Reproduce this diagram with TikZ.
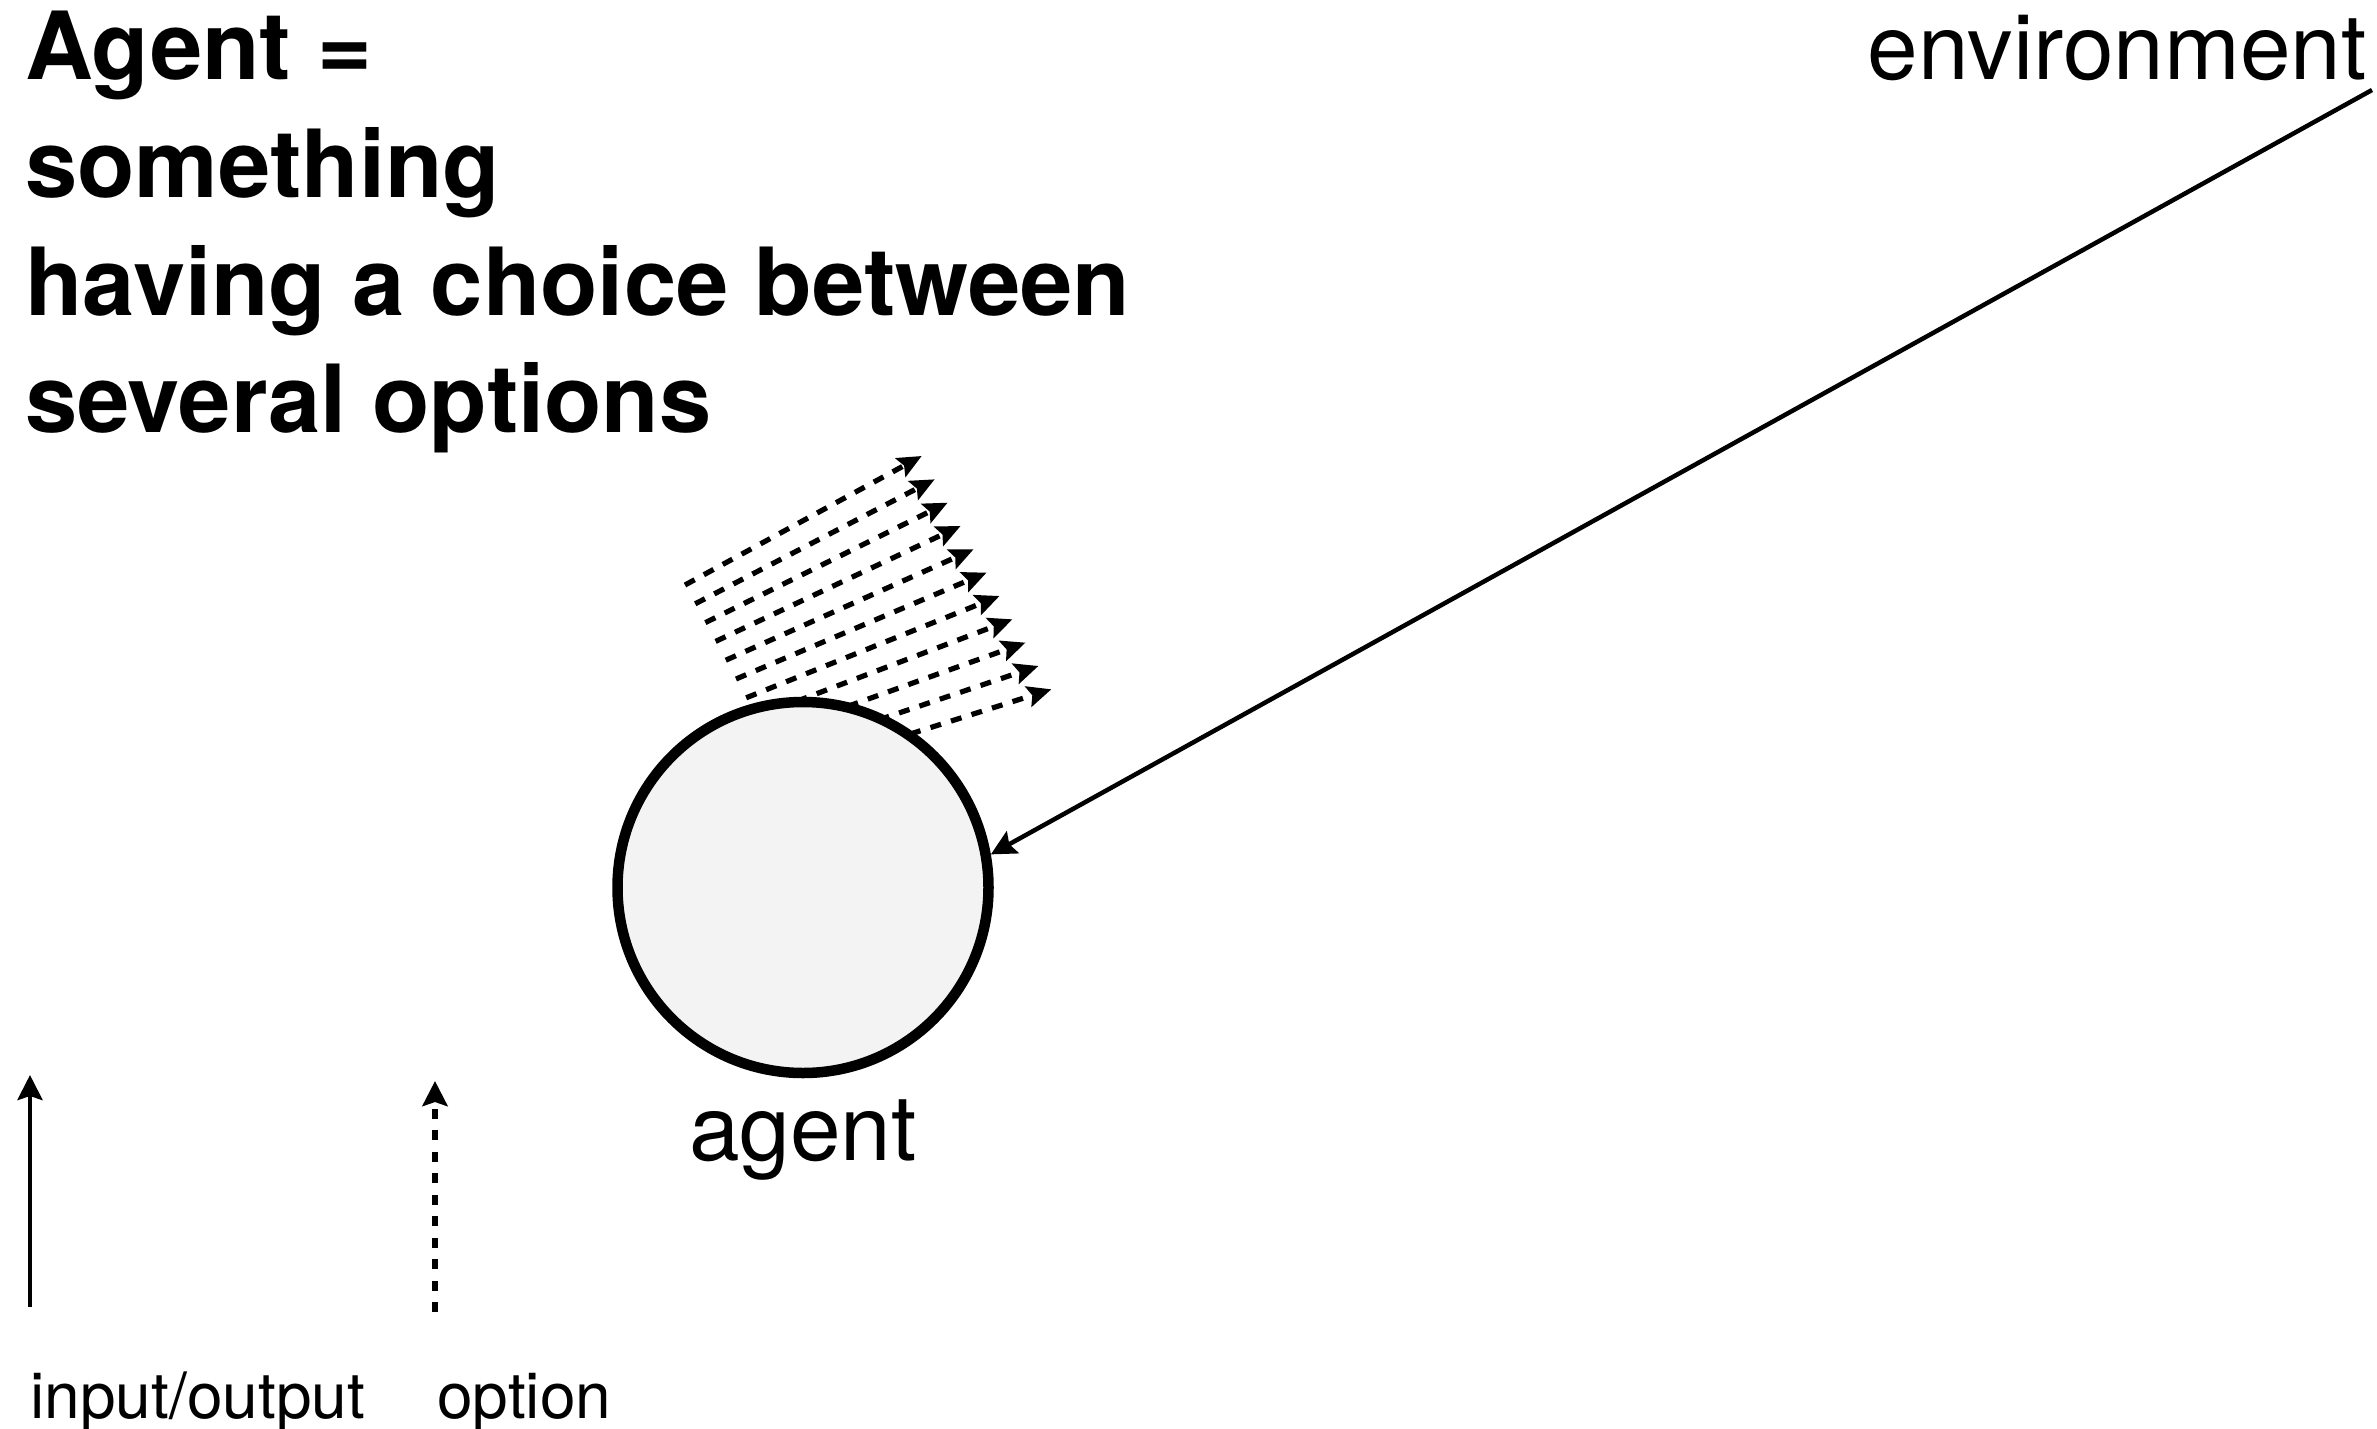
\documentclass[tikz,border=0pt]{standalone}
\usepackage{fontspec}
\setmainfont{TeX Gyre Heros}
\usetikzlibrary{arrows.meta}
\definecolor{agentfill}{HTML}{F3F3F3}
\begin{document}
\begin{tikzpicture}[x=1pt,y=-1pt,
  optarrow/.style={line width=5.2pt, dash pattern=on 11pt off 10.5pt,
    -{Stealth[length=24pt,width=21pt,inset=4pt]}},
  ioarrow/.style={line width=4.5pt, -{Stealth[length=25pt,width=25pt,inset=4pt]}},
  legdash/.style={line width=5.5pt, dash pattern=on 10pt off 11.5pt,
    -{Stealth[length=25pt,width=25pt,inset=4pt]}},
  agentcircle/.style={circle, draw, line width=10.5pt, fill=agentfill,
    minimum size=371pt, inner sep=0pt},
  titletext/.style={anchor=base west, inner sep=0pt,
    font=\fontsize{94}{117}\selectfont\bfseries},
  bigtext/.style={inner sep=0pt, font=\fontsize{91}{110}\selectfont},
  legtext/.style={anchor=base west, inner sep=0pt, font=\fontsize{64}{77}\selectfont}]
\useasboundingbox (0,0) rectangle (2377,1429);

% option arrows (drawn first, the circle covers their lower starts)
\foreach \i in {0,...,10}{
  \coordinate (optS\i) at ({685+10.2*\i},{585+18.8*\i});
  \coordinate (optT\i) at ({921.7+12.97*\i},{456+23.33*\i});
  \draw[optarrow] (optS\i) -- (optT\i);
}

% agent
\node[agentcircle] (agent) at (803,887.5) {};
\node[bigtext, anchor=base] (agentlabel) at (803,1160) {agent};

% environment
\node[bigtext, anchor=base east] (envlabel) at (2367,79) {environment};
\coordinate (envstart) at (2372,90);
\draw[ioarrow] (envstart) -- (agent.10.4);

% title
\node[titletext] (title1) at (25,80) {Agent =};
\node[titletext] (title2) at (25,197.5) {something};
\node[titletext] (title3) at (25,315) {having a choice between};
\node[titletext] (title4) at (25,432.5) {several options};

% legend
\coordinate (leg1s) at (30,1307);
\coordinate (leg1e) at (30,1075);
\coordinate (leg2s) at (435,1312);
\coordinate (leg2e) at (435,1081);
\draw[ioarrow] (leg1s) -- (leg1e);
\draw[legdash] (leg2s) -- (leg2e);
\node[legtext] (leglabel1) at (30,1418) {input/output};
\node[legtext] (leglabel2) at (437,1418) {option};
\end{tikzpicture}
\end{document}
